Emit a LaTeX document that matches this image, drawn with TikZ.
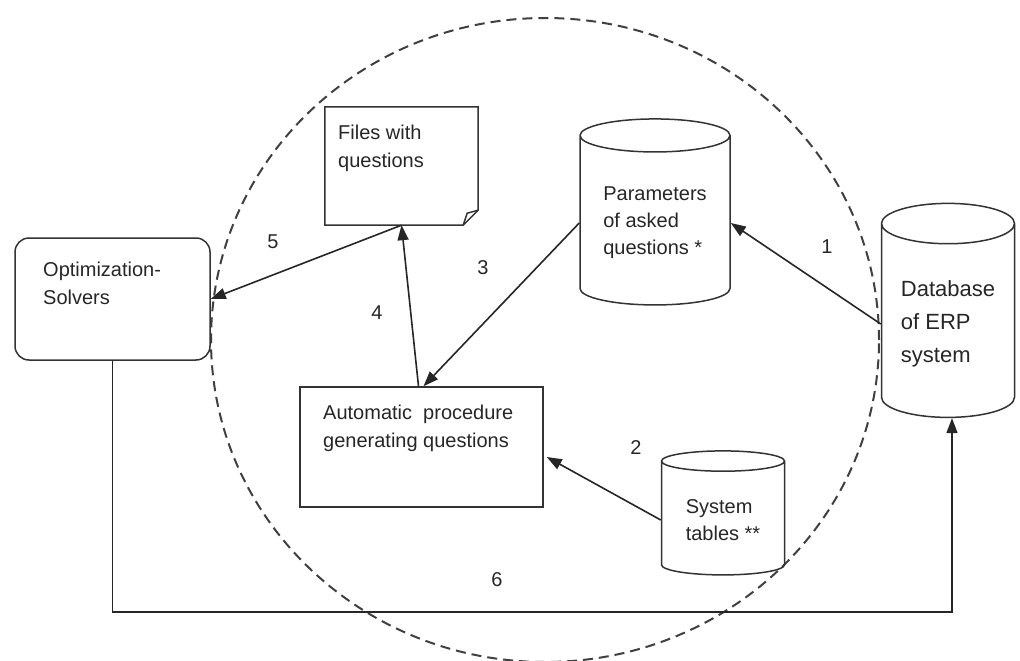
\documentclass[tikz,border=0pt]{standalone}
\usepackage{fontspec}
\setmainfont{Liberation Sans}
\usetikzlibrary{shapes.geometric,arrows.meta,calc}

\tikzset{
  box/.style={draw, line width=1.5pt, black!80},
  cyl/.style={draw, line width=1.5pt, black!80, cylinder, shape border rotate=90,
    text=black!85, align=left, font=\fontsize{20}{27}\selectfont},
  lbl/.style={text=black!85, font=\fontsize{20}{28}\selectfont, align=left, inner sep=0pt},
  arr/.style={-{Triangle[length=15pt,width=11pt]}, line width=1.6pt, black!85},
}

\begin{document}
\begin{tikzpicture}[x=1pt,y=-1pt]
\useasboundingbox (0,0) rectangle (1020,661);
\draw[dash pattern=on 10pt off 6pt, line width=2pt, black!75] (545,340) ellipse [x radius=334pt, y radius=322pt];

% boxes
\node[box, rounded corners=14pt, minimum width=195pt, minimum height=122pt] (opt) at (112.5,299) {};
\node[lbl, anchor=north west] (optt) at (43,262) {Optimization-\\Solvers};
\node[minimum width=153pt, minimum height=118pt] (files) at (401.5,166) {};
\draw[box] (files.north west) -- (files.north east) -- ([yshift=15pt]files.south east)
  -- ([xshift=-15pt]files.south east) -- (files.south west) -- cycle;
\draw[box] ([xshift=-15pt]files.south east) -- ([xshift=-11pt,yshift=12pt]files.south east) -- ([yshift=15pt]files.south east);
\node[lbl, anchor=north west] (filest) at (338,125) {Files with\\questions};
\node[box, minimum width=243pt, minimum height=120pt] (auto) at (421.5,447) {};
\node[lbl, anchor=north west] (autot) at (323,405) {Automatic~ procedure\\generating questions};

% cylinders
\node[cyl, aspect=0.3, minimum width=150pt, minimum height=186pt] (param) at (655,223) {Parameters\\of asked\\questions *};
\node[cyl, aspect=0.4, minimum width=133pt, minimum height=214pt, font=\fontsize{22}{33}\selectfont] (db) at (948,324) {Database\\of ERP\\system};
\node[cyl, aspect=0.25, minimum width=123pt, minimum height=124pt] (sys) at (723,520) {System\\tables **};

% numbers
\node[lbl] (n1) at (827,247) {1};
\node[lbl] (n2) at (636,448) {2};
\node[lbl] (n3) at (483,268) {3};
\node[lbl] (n4) at (377,313) {4};
\node[lbl] (n5) at (273,242) {5};
\node[lbl] (n6) at (497,580) {6};

% arrows
\coordinate (c6) at (952,612);
\draw[arr] (db.west) -- (param.east);
\draw[arr] (sys.west) -- ($(auto.east)+(3,10)$);
\draw[arr] (param.west) -- ($(auto.north)+(2,0)$);
\draw[arr] ($(auto.north)+(-3,0)$) -- (files.south);
\draw[arr] (files.south) -- (opt.east);
\draw[arr] (opt.south) |- (c6) -- (c6 |- db.south);
\end{tikzpicture}
\end{document}
